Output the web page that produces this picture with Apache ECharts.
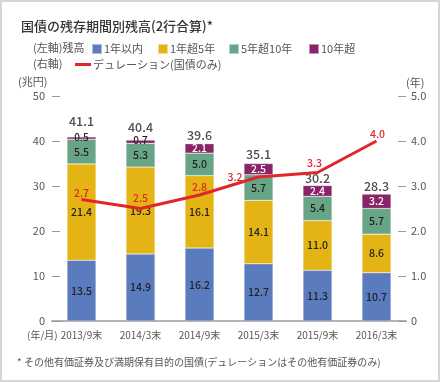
<!DOCTYPE html>
<html><head><meta charset="utf-8">
<script src="https://cdn.jsdelivr.net/npm/echarts@6/dist/echarts.min.js"></script>
<style>html,body{margin:0;padding:0;background:#fff}#c{width:440px;height:382px}</style>
</head><body><div id="c"></div>
<script>
const categories = ['2013/9末','2014/3末','2014/9末','2015/3末','2015/9末','2016/3末'];
const within1 = [13.5, 14.9, 16.2, 12.7, 11.3, 10.7];
const y1to5 = [21.4, 19.3, 16.1, 14.1, 11.0, 8.6];
const y5to10 = [5.5, 5.3, 5.0, 5.7, 5.4, 5.7];
const over10 = [0.5, 0.7, 2.1, 2.5, 2.4, 3.2];
const totals = [41.1, 40.4, 39.6, 35.1, 30.2, 28.3];
const duration = [2.7, 2.5, 2.8, 3.2, 3.3, 4.0];
const leftTicks = [0, 10, 20, 30, 40, 50];
const rightTicks = [0, 1.0, 2.0, 3.0, 4.0, 5.0];
const names = ['1年以内','1年超5年','5年超10年','10年超','デュレーション(国債のみ)'];
const colors = ['#5a7bbd','#e4b414','#68a486','#8a2468','#e0262b'];

const FONT = '"Noto Sans CJK JP", "Noto Sans", sans-serif';
const chart = echarts.init(document.getElementById('c'), null, {renderer:'canvas'});
const labelStyle = {show:true, position:'inside', color:'#222', fontSize:10.5, fontFamily:FONT, fontWeight:500};
function barSeries(i, data){
  return {name:names[i], type:'bar', stack:'s', barWidth:29, data:data,
    itemStyle:{color:colors[i], borderColor:'rgba(255,255,255,0.5)', borderWidth:0.5},
    label:Object.assign({}, labelStyle, {formatter:p=>p.value.toFixed(1)})};
}
const over10Data = over10.map(v => v < 1 ? {value:v, label:{position:'top', distance:-5, color:'#222', fontSize:10}} : v);
const totalDist = [9, 6, 1, 3, 1, 1];
const totalData = totals.map((v,i) => ({value:[i, v], label:{distance: totalDist[i]}}));
const durLabelOffsets = [[0,-1],[0,-5],[0,-3],[-23.5,5.5],[-3,-4],[1,-1.5]];
const durData = duration.map((v,i) => ({value:v, label:{offset:durLabelOffsets[i]}}));

const legendBase = {padding:0, itemWidth:10, itemHeight:10, itemGap:0, icon:'rect', textStyle:{fontSize:11, color:'#555', fontFamily:FONT, padding:[0,0,0,-3]}, selectedMode:false};
const legendPos = [91, 157, 228, 308];
const legends = legendPos.map((x,i)=>Object.assign({}, legendBase, {left:x, top:43, data:[names[i]]}));
legends.push(Object.assign({}, legendBase, {left:75, top:59, itemWidth:16, itemHeight:3, data:[{name:names[4], icon:'rect'}]}));

chart.setOption({
  animation:false,
  textStyle:{fontFamily:FONT},
  title:{text:'国債の残存期間別残高(2行合算)*', left:16, top:15, textStyle:{fontSize:13, fontWeight:500, color:'#333', fontFamily:FONT}},
  legend:legends,
  grid:{left:52, right:34, top:96, bottom:61},
  xAxis:{type:'category', data:categories, axisTick:{show:false},
    axisLine:{lineStyle:{color:'#b3b3b3', width:2}},
    axisLabel:{color:'#555', fontSize:10, margin:9, fontFamily:FONT}},
  yAxis:[
    {type:'value', min:0, max:50, interval:10, splitLine:{show:false}, axisLine:{show:false},
     axisTick:{show:true, inside:true, length:8, lineStyle:{color:'#999'}},
     axisLabel:{color:'#555', fontSize:11, margin:7, formatter:v=>String(v)}},
    {type:'value', min:0, max:5, interval:1, splitLine:{show:false}, axisLine:{show:false},
     axisTick:{show:true, inside:true, length:8, lineStyle:{color:'#999'}},
     axisLabel:{color:'#555', fontSize:11, margin:5, formatter:v=>v===0?'0':v.toFixed(1)},
     name:'(年)', nameLocation:'end', nameGap:8, nameTextStyle:{color:'#555', fontSize:11, align:'left', padding:[0,0,0,0]}}
  ],
  graphic:[
    {type:'rect', shape:{x:1, y:1, width:438, height:380}, style:{fill:'none', stroke:'#d6d6d6', lineWidth:2}, silent:true},
    {type:'text', left:33, top:42, style:{text:'(左軸)残高', fontSize:11, fill:'#555', fontFamily:FONT}},
    {type:'text', left:33, top:58, style:{text:'(右軸)', fontSize:11, fill:'#555', fontFamily:FONT}},
    {type:'text', left:18, top:76, style:{text:'(兆円)', fontSize:11, fill:'#555', fontFamily:FONT}},
    {type:'text', left:27, top:330, style:{text:'(年/月)', fontSize:10, fill:'#555', fontFamily:FONT}},
    {type:'text', left:17, top:357, style:{text:'* その他有価証券及び満期保有目的の国債(デュレーションはその他有価証券のみ)', fontSize:10, fill:'#555', fontFamily:FONT}}
  ],
  series:[
    barSeries(0, within1),
    barSeries(1, y1to5),
    barSeries(2, y5to10),
    Object.assign(barSeries(3, over10Data), {label:Object.assign({}, labelStyle, {color:'#fff', formatter:p=>p.value.toFixed(1)})}),
    {name:'total', type:'scatter', symbolSize:0, data:totalData, silent:true,
     label:{show:true, position:'top', color:'#222', fontSize:12.5, fontFamily:FONT, fontWeight:500, formatter:p=>p.value[1].toFixed(1)}},
    {name:names[4], type:'line', yAxisIndex:1, data:durData, symbol:'circle', symbolSize:0.1, showSymbol:true, z:5,
     lineStyle:{color:colors[4], width:3}, itemStyle:{color:colors[4]},
     label:{show:true, position:'top', distance:0, color:colors[4], fontSize:10.5, fontFamily:FONT, fontWeight:500, formatter:p=>p.value.toFixed(1)}}
  ]
});
</script></body></html>
